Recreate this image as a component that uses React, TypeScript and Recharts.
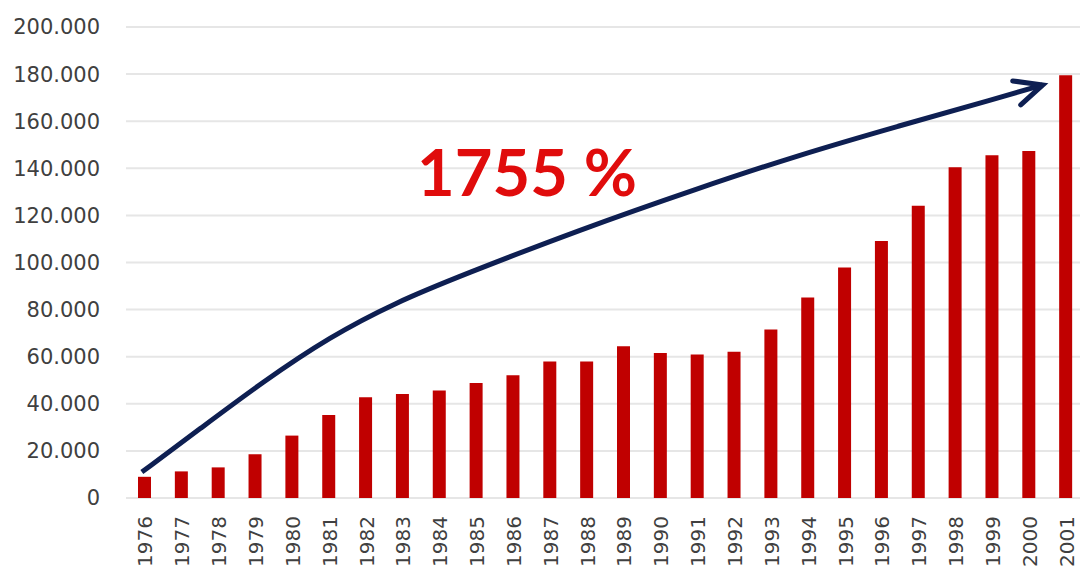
import { ComposedChart, Bar, Line, XAxis, YAxis, CartesianGrid, ReferenceDot } from 'recharts'

const years = [
  '1976', '1977', '1978', '1979', '1980', '1981', '1982', '1983', '1984',
  '1985', '1986', '1987', '1988', '1989', '1990', '1991', '1992', '1993',
  '1994', '1995', '1996', '1997', '1998', '1999', '2000', '2001',
]
const values = [
  9000, 11300, 13000, 18600, 26500, 35200, 42800, 44200, 45600,
  48800, 52100, 58000, 58000, 64400, 61600, 60900, 62100, 71500,
  85100, 97900, 109100, 124100, 140400, 145500, 147300, 179500,
]
const yTicks = [0, 20000, 40000, 60000, 80000, 100000, 120000, 140000, 160000, 180000, 200000]

// hand-drawn growth arrow, in bar-index / value units
const arrowX = [-0.07, 1.5, 3.21, 5.02, 6.84, 8.62, 11.79, 15.04, 17.75, 20.45, 23.16, 24.38]
const arrowY = [11000, 29300, 49300, 68400, 83200, 94600, 113800, 131600, 145600, 157900, 169800, 175400]

const growthLabel = '1755 %'
const growthLabelX = 7.4
const growthLabelY = 128300

const RED = '#c00000'
const NAVY = '#0e1f52'
const AXIS_TEXT = '#404040'
const FONT = '"DejaVu Sans", sans-serif'

const data = years.map((year, i) => ({ year, value: values[i] }))
const arrowData = arrowX.map((x, i) => ({ x, y: arrowY[i] }))
const lastArrow = arrowData.length - 1

const fmtThousands = (v: number) => (v === 0 ? '0' : `${v / 1000}.000`)

function YearTick({ x, y, payload }: any) {
  return (
    <text
      transform={`translate(${x + 1},${y + 16}) rotate(-90)`}
      textAnchor="end"
      dominantBaseline="central"
      fill={AXIS_TEXT}
      fontSize={20}
      fontFamily={FONT}
    >
      {payload.value}
    </text>
  )
}

function ArrowHead(p: any) {
  if (p.index !== lastArrow) return <g key={`d${p.index}`} />
  const { cx, cy } = p
  return (
    <path
      key="head"
      d={`M${cx - 30},${cy - 4} L${cx},${cy} L${cx - 22},${cy + 20}`}
      fill="none"
      stroke={NAVY}
      strokeWidth={5}
      strokeLinejoin="miter"
      strokeLinecap="round"
    />
  )
}

function GrowthLabel({ cx, cy }: any) {
  return (
    <text x={cx} y={cy} fill="#e00c0c" fontSize={65} fontWeight={700} fontFamily="Lato, sans-serif">
      {growthLabel}
    </text>
  )
}

export default function App() {
  return (
    <div
      style={{
        position: 'absolute',
        left: 0,
        top: 0,
        width: 1080,
        height: 569,
        overflow: 'hidden',
        background: '#fff',
      }}
    >
      <ComposedChart width={1084} height={569} data={data} margin={{ top: 27, right: 0, bottom: 0, left: 0 }}>
        <CartesianGrid vertical={false} stroke="#e6e6e6" strokeWidth={2} />
        <XAxis
          dataKey="year"
          interval={0}
          axisLine={false}
          tickLine={false}
          tickSize={0}
          height={71}
          tick={<YearTick />}
        />
        <XAxis xAxisId="arrow" type="number" dataKey="x" domain={[-0.5, 25.5]} allowDataOverflow hide />
        <YAxis
          width={126}
          domain={[0, 200000]}
          ticks={yTicks}
          interval={0}
          axisLine={false}
          tickLine={false}
          tickSize={0}
          tickMargin={26}
          tickFormatter={fmtThousands}
          tick={{ fill: AXIS_TEXT, fontSize: 21, fontFamily: FONT }}
        />
        <Bar dataKey="value" fill={RED} barSize={13} isAnimationActive={false} />
        <Line
          xAxisId="arrow"
          data={arrowData}
          dataKey="y"
          type="basis"
          stroke={NAVY}
          strokeWidth={5}
          dot={ArrowHead}
          activeDot={false}
          isAnimationActive={false}
        />
        <ReferenceDot
          xAxisId="arrow"
          x={growthLabelX}
          y={growthLabelY}
          r={0}
          shape={GrowthLabel}
        />
      </ComposedChart>
    </div>
  )
}
